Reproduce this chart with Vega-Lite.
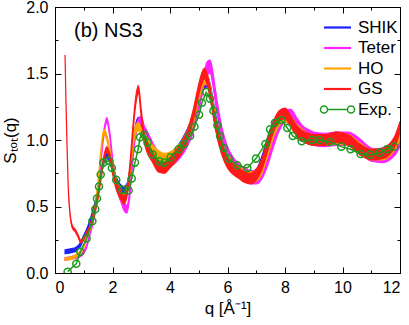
{
  "$schema": "https://vega.github.io/schema/vega-lite/v6.json",
  "width": 345,
  "height": 266,
  "autosize": {"type": "none"},
  "padding": {"left": 55, "top": 7, "right": 9, "bottom": 52},
  "config": {
    "view": {"stroke": "black", "strokeWidth": 1},
    "axis": {"labelFont": "Liberation Sans", "labelFontSize": 16, "titleFont": "Liberation Sans", "titleFontSize": 17, "titleFontWeight": "normal", "labelColor": "black", "titleColor": "black", "tickColor": "black", "domainColor": "black", "grid": false},
    "legend": {"labelFont": "Liberation Sans", "labelFontSize": 17, "labelFontWeight": "normal", "labelColor": "black"}
  },
  "datasets": {
    "sim": [
      {"m":"SHIK","q":0.35,"lo":0.145,"hi":0.175},{"m":"SHIK","q":0.5,"lo":0.15,"hi":0.18},{"m":"SHIK","q":0.6,"lo":0.155,"hi":0.185},{"m":"SHIK","q":0.7,"lo":0.16,"hi":0.19},{"m":"SHIK","q":0.8,"lo":0.175,"hi":0.205},{"m":"SHIK","q":0.9,"lo":0.205,"hi":0.235},{"m":"SHIK","q":1.0,"lo":0.255,"hi":0.285},{"m":"SHIK","q":1.1,"lo":0.31,"hi":0.33},{"m":"SHIK","q":1.2,"lo":0.37,"hi":0.39},{"m":"SHIK","q":1.3,"lo":0.42,"hi":0.46},{"m":"SHIK","q":1.4,"lo":0.5,"hi":0.54},{"m":"SHIK","q":1.5,"lo":0.6,"hi":0.64},{"m":"SHIK","q":1.6,"lo":0.72,"hi":0.76},{"m":"SHIK","q":1.7,"lo":0.82,"hi":0.86},{"m":"SHIK","q":1.8,"lo":0.86,"hi":0.9},{"m":"SHIK","q":1.9,"lo":0.84,"hi":0.88},{"m":"SHIK","q":2.0,"lo":0.76,"hi":0.82},{"m":"SHIK","q":2.1,"lo":0.68,"hi":0.74},{"m":"SHIK","q":2.2,"lo":0.63,"hi":0.69},{"m":"SHIK","q":2.3,"lo":0.6,"hi":0.66},{"m":"SHIK","q":2.4,"lo":0.59,"hi":0.65},{"m":"SHIK","q":2.5,"lo":0.61,"hi":0.67},{"m":"SHIK","q":2.6,"lo":0.71,"hi":0.77},{"m":"SHIK","q":2.7,"lo":0.89,"hi":0.95},{"m":"SHIK","q":2.8,"lo":1.05,"hi":1.11},{"m":"SHIK","q":2.9,"lo":1.11,"hi":1.17},{"m":"SHIK","q":3.0,"lo":1.07,"hi":1.13},{"m":"SHIK","q":3.1,"lo":1.0,"hi":1.06},{"m":"SHIK","q":3.2,"lo":0.94,"hi":1.02},{"m":"SHIK","q":3.4,"lo":0.86,"hi":0.94},{"m":"SHIK","q":3.6,"lo":0.8,"hi":0.88},{"m":"SHIK","q":3.8,"lo":0.79,"hi":0.87},{"m":"SHIK","q":4.0,"lo":0.82,"hi":0.9},{"m":"SHIK","q":4.2,"lo":0.86,"hi":0.94},{"m":"SHIK","q":4.4,"lo":0.92,"hi":1.0},{"m":"SHIK","q":4.6,"lo":1.0,"hi":1.08},{"m":"SHIK","q":4.8,"lo":1.11,"hi":1.19},{"m":"SHIK","q":5.0,"lo":1.26,"hi":1.34},{"m":"SHIK","q":5.1,"lo":1.34,"hi":1.42},{"m":"SHIK","q":5.2,"lo":1.39,"hi":1.47},{"m":"SHIK","q":5.3,"lo":1.4,"hi":1.48},{"m":"SHIK","q":5.4,"lo":1.34,"hi":1.42},{"m":"SHIK","q":5.5,"lo":1.22,"hi":1.3},{"m":"SHIK","q":5.6,"lo":1.1,"hi":1.18},{"m":"SHIK","q":5.8,"lo":0.92,"hi":1.0},{"m":"SHIK","q":6.0,"lo":0.82,"hi":0.9},{"m":"SHIK","q":6.2,"lo":0.76,"hi":0.84},{"m":"SHIK","q":6.4,"lo":0.72,"hi":0.8},{"m":"SHIK","q":6.6,"lo":0.69,"hi":0.77},{"m":"SHIK","q":6.8,"lo":0.68,"hi":0.76},{"m":"SHIK","q":7.0,"lo":0.7,"hi":0.78},{"m":"SHIK","q":7.2,"lo":0.8,"hi":0.88},{"m":"SHIK","q":7.4,"lo":0.94,"hi":1.02},{"m":"SHIK","q":7.6,"lo":1.06,"hi":1.14},{"m":"SHIK","q":7.8,"lo":1.12,"hi":1.2},{"m":"SHIK","q":8.0,"lo":1.14,"hi":1.22},{"m":"SHIK","q":8.2,"lo":1.1,"hi":1.18},{"m":"SHIK","q":8.4,"lo":1.04,"hi":1.12},{"m":"SHIK","q":8.6,"lo":1.0,"hi":1.08},{"m":"SHIK","q":8.8,"lo":0.97,"hi":1.05},{"m":"SHIK","q":9.0,"lo":0.96,"hi":1.04},{"m":"SHIK","q":9.4,"lo":0.96,"hi":1.04},{"m":"SHIK","q":9.8,"lo":0.98,"hi":1.06},{"m":"SHIK","q":10.2,"lo":0.96,"hi":1.04},{"m":"SHIK","q":10.6,"lo":0.9,"hi":0.98},{"m":"SHIK","q":11.0,"lo":0.85,"hi":0.93},{"m":"SHIK","q":11.4,"lo":0.86,"hi":0.94},{"m":"SHIK","q":11.8,"lo":0.93,"hi":1.01},{"m":"SHIK","q":12.0,"lo":1.02,"hi":1.1},

      {"m":"Teter","q":0.35,"lo":0.095,"hi":0.115},{"m":"Teter","q":0.5,"lo":0.1,"hi":0.12},{"m":"Teter","q":0.6,"lo":0.105,"hi":0.125},{"m":"Teter","q":0.7,"lo":0.11,"hi":0.13},{"m":"Teter","q":0.8,"lo":0.115,"hi":0.135},{"m":"Teter","q":0.9,"lo":0.125,"hi":0.145},{"m":"Teter","q":1.0,"lo":0.145,"hi":0.165},{"m":"Teter","q":1.1,"lo":0.19,"hi":0.21},{"m":"Teter","q":1.2,"lo":0.27,"hi":0.29},{"m":"Teter","q":1.3,"lo":0.35,"hi":0.39},{"m":"Teter","q":1.4,"lo":0.45,"hi":0.49},{"m":"Teter","q":1.5,"lo":0.6,"hi":0.64},{"m":"Teter","q":1.6,"lo":0.83,"hi":0.87},{"m":"Teter","q":1.7,"lo":1.03,"hi":1.07},{"m":"Teter","q":1.8,"lo":1.13,"hi":1.17},{"m":"Teter","q":1.9,"lo":1.03,"hi":1.07},{"m":"Teter","q":2.0,"lo":0.82,"hi":0.88},{"m":"Teter","q":2.1,"lo":0.67,"hi":0.73},{"m":"Teter","q":2.2,"lo":0.59,"hi":0.65},{"m":"Teter","q":2.3,"lo":0.53,"hi":0.59},{"m":"Teter","q":2.4,"lo":0.47,"hi":0.53},{"m":"Teter","q":2.5,"lo":0.45,"hi":0.51},{"m":"Teter","q":2.6,"lo":0.57,"hi":0.63},{"m":"Teter","q":2.7,"lo":0.82,"hi":0.88},{"m":"Teter","q":2.8,"lo":1.02,"hi":1.08},{"m":"Teter","q":2.9,"lo":1.1,"hi":1.16},{"m":"Teter","q":3.0,"lo":1.12,"hi":1.18},{"m":"Teter","q":3.1,"lo":1.05,"hi":1.11},{"m":"Teter","q":3.2,"lo":0.97,"hi":1.07},{"m":"Teter","q":3.4,"lo":0.88,"hi":0.98},{"m":"Teter","q":3.6,"lo":0.81,"hi":0.91},{"m":"Teter","q":3.8,"lo":0.78,"hi":0.88},{"m":"Teter","q":4.0,"lo":0.8,"hi":0.9},{"m":"Teter","q":4.2,"lo":0.83,"hi":0.93},{"m":"Teter","q":4.4,"lo":0.88,"hi":0.98},{"m":"Teter","q":4.6,"lo":0.95,"hi":1.05},{"m":"Teter","q":4.8,"lo":1.05,"hi":1.15},{"m":"Teter","q":5.0,"lo":1.22,"hi":1.32},{"m":"Teter","q":5.1,"lo":1.32,"hi":1.42},{"m":"Teter","q":5.2,"lo":1.42,"hi":1.52},{"m":"Teter","q":5.3,"lo":1.49,"hi":1.59},{"m":"Teter","q":5.4,"lo":1.5,"hi":1.6},{"m":"Teter","q":5.5,"lo":1.4,"hi":1.5},{"m":"Teter","q":5.6,"lo":1.25,"hi":1.35},{"m":"Teter","q":5.8,"lo":1.0,"hi":1.1},{"m":"Teter","q":6.0,"lo":0.85,"hi":0.95},{"m":"Teter","q":6.2,"lo":0.77,"hi":0.87},{"m":"Teter","q":6.4,"lo":0.72,"hi":0.82},{"m":"Teter","q":6.6,"lo":0.69,"hi":0.79},{"m":"Teter","q":6.8,"lo":0.67,"hi":0.77},{"m":"Teter","q":7.0,"lo":0.67,"hi":0.77},{"m":"Teter","q":7.2,"lo":0.71,"hi":0.81},{"m":"Teter","q":7.4,"lo":0.81,"hi":0.91},{"m":"Teter","q":7.6,"lo":0.95,"hi":1.05},{"m":"Teter","q":7.8,"lo":1.07,"hi":1.17},{"m":"Teter","q":8.0,"lo":1.13,"hi":1.23},{"m":"Teter","q":8.2,"lo":1.13,"hi":1.23},{"m":"Teter","q":8.4,"lo":1.07,"hi":1.17},{"m":"Teter","q":8.6,"lo":1.01,"hi":1.11},{"m":"Teter","q":8.8,"lo":0.98,"hi":1.08},{"m":"Teter","q":9.0,"lo":0.96,"hi":1.06},{"m":"Teter","q":9.4,"lo":0.95,"hi":1.05},{"m":"Teter","q":9.8,"lo":0.96,"hi":1.06},{"m":"Teter","q":10.2,"lo":0.96,"hi":1.06},{"m":"Teter","q":10.6,"lo":0.91,"hi":1.01},{"m":"Teter","q":11.0,"lo":0.84,"hi":0.94},{"m":"Teter","q":11.4,"lo":0.83,"hi":0.93},{"m":"Teter","q":11.8,"lo":0.88,"hi":0.98},{"m":"Teter","q":12.0,"lo":0.95,"hi":1.05},

      {"m":"HO","q":0.35,"lo":0.095,"hi":0.115},{"m":"HO","q":0.5,"lo":0.1,"hi":0.12},{"m":"HO","q":0.6,"lo":0.105,"hi":0.125},{"m":"HO","q":0.7,"lo":0.115,"hi":0.135},{"m":"HO","q":0.8,"lo":0.13,"hi":0.15},{"m":"HO","q":0.9,"lo":0.15,"hi":0.17},{"m":"HO","q":1.0,"lo":0.19,"hi":0.21},{"m":"HO","q":1.1,"lo":0.25,"hi":0.27},{"m":"HO","q":1.2,"lo":0.31,"hi":0.33},{"m":"HO","q":1.3,"lo":0.38,"hi":0.42},{"m":"HO","q":1.4,"lo":0.48,"hi":0.52},{"m":"HO","q":1.5,"lo":0.66,"hi":0.7},{"m":"HO","q":1.6,"lo":0.9,"hi":0.94},{"m":"HO","q":1.7,"lo":1.04,"hi":1.08},{"m":"HO","q":1.8,"lo":1.0,"hi":1.04},{"m":"HO","q":1.9,"lo":0.9,"hi":0.94},{"m":"HO","q":2.0,"lo":0.77,"hi":0.83},{"m":"HO","q":2.1,"lo":0.67,"hi":0.73},{"m":"HO","q":2.2,"lo":0.6,"hi":0.66},{"m":"HO","q":2.3,"lo":0.55,"hi":0.61},{"m":"HO","q":2.4,"lo":0.53,"hi":0.59},{"m":"HO","q":2.5,"lo":0.59,"hi":0.65},{"m":"HO","q":2.6,"lo":0.72,"hi":0.78},{"m":"HO","q":2.7,"lo":0.92,"hi":0.98},{"m":"HO","q":2.8,"lo":1.05,"hi":1.11},{"m":"HO","q":2.9,"lo":1.07,"hi":1.13},{"m":"HO","q":3.0,"lo":1.03,"hi":1.09},{"m":"HO","q":3.1,"lo":0.99,"hi":1.05},{"m":"HO","q":3.2,"lo":0.94,"hi":1.02},{"m":"HO","q":3.4,"lo":0.88,"hi":0.96},{"m":"HO","q":3.6,"lo":0.84,"hi":0.92},{"m":"HO","q":3.8,"lo":0.82,"hi":0.9},{"m":"HO","q":4.0,"lo":0.83,"hi":0.91},{"m":"HO","q":4.2,"lo":0.86,"hi":0.94},{"m":"HO","q":4.4,"lo":0.91,"hi":0.99},{"m":"HO","q":4.6,"lo":0.99,"hi":1.07},{"m":"HO","q":4.8,"lo":1.12,"hi":1.2},{"m":"HO","q":5.0,"lo":1.29,"hi":1.37},{"m":"HO","q":5.1,"lo":1.38,"hi":1.46},{"m":"HO","q":5.2,"lo":1.42,"hi":1.5},{"m":"HO","q":5.3,"lo":1.41,"hi":1.49},{"m":"HO","q":5.4,"lo":1.33,"hi":1.41},{"m":"HO","q":5.5,"lo":1.21,"hi":1.29},{"m":"HO","q":5.6,"lo":1.08,"hi":1.16},{"m":"HO","q":5.8,"lo":0.91,"hi":0.99},{"m":"HO","q":6.0,"lo":0.81,"hi":0.89},{"m":"HO","q":6.2,"lo":0.75,"hi":0.83},{"m":"HO","q":6.4,"lo":0.72,"hi":0.8},{"m":"HO","q":6.6,"lo":0.69,"hi":0.77},{"m":"HO","q":6.8,"lo":0.68,"hi":0.76},{"m":"HO","q":7.0,"lo":0.69,"hi":0.77},{"m":"HO","q":7.2,"lo":0.75,"hi":0.83},{"m":"HO","q":7.4,"lo":0.88,"hi":0.96},{"m":"HO","q":7.6,"lo":1.02,"hi":1.1},{"m":"HO","q":7.8,"lo":1.11,"hi":1.19},{"m":"HO","q":8.0,"lo":1.14,"hi":1.22},{"m":"HO","q":8.2,"lo":1.1,"hi":1.18},{"m":"HO","q":8.4,"lo":1.04,"hi":1.12},{"m":"HO","q":8.6,"lo":1.0,"hi":1.08},{"m":"HO","q":8.8,"lo":0.97,"hi":1.05},{"m":"HO","q":9.0,"lo":0.96,"hi":1.04},{"m":"HO","q":9.4,"lo":0.96,"hi":1.04},{"m":"HO","q":9.8,"lo":0.97,"hi":1.05},{"m":"HO","q":10.2,"lo":0.96,"hi":1.04},{"m":"HO","q":10.6,"lo":0.9,"hi":0.98},{"m":"HO","q":11.0,"lo":0.85,"hi":0.93},{"m":"HO","q":11.4,"lo":0.85,"hi":0.93},{"m":"HO","q":11.8,"lo":0.92,"hi":1.0},{"m":"HO","q":12.0,"lo":1.0,"hi":1.08},

      {"m":"GS","q":0.35,"lo":1.62,"hi":1.64},{"m":"GS","q":0.38,"lo":1.29,"hi":1.31},{"m":"GS","q":0.42,"lo":0.94,"hi":0.96},{"m":"GS","q":0.46,"lo":0.64,"hi":0.66},{"m":"GS","q":0.52,"lo":0.44,"hi":0.46},{"m":"GS","q":0.6,"lo":0.34,"hi":0.36},{"m":"GS","q":0.7,"lo":0.31,"hi":0.33},{"m":"GS","q":0.8,"lo":0.27,"hi":0.29},{"m":"GS","q":0.9,"lo":0.225,"hi":0.245},{"m":"GS","q":1.0,"lo":0.25,"hi":0.27},{"m":"GS","q":1.1,"lo":0.29,"hi":0.31},{"m":"GS","q":1.2,"lo":0.33,"hi":0.35},{"m":"GS","q":1.3,"lo":0.38,"hi":0.42},{"m":"GS","q":1.4,"lo":0.46,"hi":0.5},{"m":"GS","q":1.5,"lo":0.56,"hi":0.6},{"m":"GS","q":1.6,"lo":0.7,"hi":0.74},{"m":"GS","q":1.7,"lo":0.84,"hi":0.88},{"m":"GS","q":1.8,"lo":0.91,"hi":0.95},{"m":"GS","q":1.9,"lo":0.86,"hi":0.9},{"m":"GS","q":2.0,"lo":0.75,"hi":0.81},{"m":"GS","q":2.1,"lo":0.65,"hi":0.71},{"m":"GS","q":2.2,"lo":0.59,"hi":0.65},{"m":"GS","q":2.3,"lo":0.55,"hi":0.61},{"m":"GS","q":2.4,"lo":0.52,"hi":0.58},{"m":"GS","q":2.5,"lo":0.57,"hi":0.63},{"m":"GS","q":2.6,"lo":0.75,"hi":0.81},{"m":"GS","q":2.7,"lo":1.02,"hi":1.08},{"m":"GS","q":2.8,"lo":1.25,"hi":1.31},{"m":"GS","q":2.9,"lo":1.35,"hi":1.41},{"m":"GS","q":3.0,"lo":1.17,"hi":1.23},{"m":"GS","q":3.1,"lo":0.99,"hi":1.05},{"m":"GS","q":3.2,"lo":0.91,"hi":0.99},{"m":"GS","q":3.4,"lo":0.83,"hi":0.91},{"m":"GS","q":3.6,"lo":0.76,"hi":0.84},{"m":"GS","q":3.8,"lo":0.75,"hi":0.83},{"m":"GS","q":4.0,"lo":0.79,"hi":0.87},{"m":"GS","q":4.2,"lo":0.84,"hi":0.92},{"m":"GS","q":4.4,"lo":0.9,"hi":0.98},{"m":"GS","q":4.6,"lo":0.99,"hi":1.07},{"m":"GS","q":4.8,"lo":1.14,"hi":1.22},{"m":"GS","q":5.0,"lo":1.34,"hi":1.42},{"m":"GS","q":5.1,"lo":1.42,"hi":1.5},{"m":"GS","q":5.2,"lo":1.46,"hi":1.54},{"m":"GS","q":5.3,"lo":1.41,"hi":1.49},{"m":"GS","q":5.4,"lo":1.31,"hi":1.39},{"m":"GS","q":5.5,"lo":1.18,"hi":1.26},{"m":"GS","q":5.6,"lo":1.06,"hi":1.14},{"m":"GS","q":5.8,"lo":0.89,"hi":0.97},{"m":"GS","q":6.0,"lo":0.79,"hi":0.87},{"m":"GS","q":6.2,"lo":0.74,"hi":0.82},{"m":"GS","q":6.4,"lo":0.71,"hi":0.79},{"m":"GS","q":6.6,"lo":0.68,"hi":0.76},{"m":"GS","q":6.8,"lo":0.67,"hi":0.75},{"m":"GS","q":7.0,"lo":0.7,"hi":0.78},{"m":"GS","q":7.2,"lo":0.78,"hi":0.86},{"m":"GS","q":7.4,"lo":0.92,"hi":1.0},{"m":"GS","q":7.6,"lo":1.06,"hi":1.14},{"m":"GS","q":7.8,"lo":1.14,"hi":1.22},{"m":"GS","q":8.0,"lo":1.16,"hi":1.24},{"m":"GS","q":8.2,"lo":1.1,"hi":1.18},{"m":"GS","q":8.4,"lo":1.03,"hi":1.11},{"m":"GS","q":8.6,"lo":0.99,"hi":1.07},{"m":"GS","q":8.8,"lo":0.97,"hi":1.05},{"m":"GS","q":9.0,"lo":0.96,"hi":1.04},{"m":"GS","q":9.4,"lo":0.96,"hi":1.04},{"m":"GS","q":9.8,"lo":0.98,"hi":1.06},{"m":"GS","q":10.2,"lo":0.96,"hi":1.04},{"m":"GS","q":10.6,"lo":0.89,"hi":0.97},{"m":"GS","q":11.0,"lo":0.85,"hi":0.93},{"m":"GS","q":11.4,"lo":0.86,"hi":0.94},{"m":"GS","q":11.8,"lo":0.94,"hi":1.02},{"m":"GS","q":12.0,"lo":1.06,"hi":1.14}
    ],
    "exp": [
      {"m":"Exp.","q":0.44,"S":0.01},{"m":"Exp.","q":0.74,"S":0.07},{"m":"Exp.","q":0.88,"S":0.16},{"m":"Exp.","q":1.10,"S":0.26},{"m":"Exp.","q":1.30,"S":0.39},{"m":"Exp.","q":1.40,"S":0.48},{"m":"Exp.","q":1.46,"S":0.56},{"m":"Exp.","q":1.53,"S":0.65},{"m":"Exp.","q":1.59,"S":0.74},{"m":"Exp.","q":1.68,"S":0.83},{"m":"Exp.","q":1.87,"S":0.845},{"m":"Exp.","q":1.98,"S":0.79},{"m":"Exp.","q":2.13,"S":0.70},{"m":"Exp.","q":2.34,"S":0.625},{"m":"Exp.","q":2.56,"S":0.62},{"m":"Exp.","q":2.67,"S":0.71},{"m":"Exp.","q":2.78,"S":0.83},{"m":"Exp.","q":2.89,"S":0.93},{"m":"Exp.","q":2.96,"S":1.02},{"m":"Exp.","q":3.10,"S":1.04},{"m":"Exp.","q":3.22,"S":0.98},{"m":"Exp.","q":3.40,"S":0.89},{"m":"Exp.","q":3.63,"S":0.84},{"m":"Exp.","q":3.80,"S":0.83},{"m":"Exp.","q":4.02,"S":0.87},{"m":"Exp.","q":4.30,"S":0.93},{"m":"Exp.","q":4.49,"S":0.97},{"m":"Exp.","q":4.70,"S":1.03},{"m":"Exp.","q":4.85,"S":1.10},{"m":"Exp.","q":5.01,"S":1.19},{"m":"Exp.","q":5.11,"S":1.28},{"m":"Exp.","q":5.26,"S":1.36},{"m":"Exp.","q":5.39,"S":1.31},{"m":"Exp.","q":5.51,"S":1.22},{"m":"Exp.","q":5.65,"S":1.11},{"m":"Exp.","q":5.74,"S":1.03},{"m":"Exp.","q":5.88,"S":0.94},{"m":"Exp.","q":6.04,"S":0.86},{"m":"Exp.","q":6.34,"S":0.81},{"m":"Exp.","q":6.69,"S":0.79},{"m":"Exp.","q":6.99,"S":0.86},{"m":"Exp.","q":7.32,"S":0.97},{"m":"Exp.","q":7.48,"S":1.08},{"m":"Exp.","q":7.65,"S":1.13},{"m":"Exp.","q":7.88,"S":1.15},{"m":"Exp.","q":8.08,"S":1.09},{"m":"Exp.","q":8.27,"S":1.03},{"m":"Exp.","q":8.58,"S":0.99},{"m":"Exp.","q":8.95,"S":1.00},{"m":"Exp.","q":9.19,"S":1.00},{"m":"Exp.","q":9.57,"S":0.985},{"m":"Exp.","q":9.96,"S":0.95},{"m":"Exp.","q":10.28,"S":0.93},{"m":"Exp.","q":10.63,"S":0.895},{"m":"Exp.","q":10.96,"S":0.89},{"m":"Exp.","q":11.30,"S":0.905},{"m":"Exp.","q":11.54,"S":0.93},{"m":"Exp.","q":11.80,"S":0.95}
    ]
  },
  "resolve": {"axis": {"x": "independent", "y": "independent"}},
  "layer": [
    {
      "data": {"name": "sim"},
      "transform": [{"filter": "datum.m === 'SHIK'"}],
      "mark": {"type": "area", "interpolate": "monotone", "clip": true, "strokeWidth": 1.2},
      "encoding": {
        "x": {"field": "q", "type": "quantitative", "scale": {"domain": [0, 12], "nice": false},
              "axis": {"orient": "bottom", "values": [0, 2, 4, 6, 8, 10, 12], "format": "d", "tickSize": -6, "labelPadding": 12, "domain": true, "title": "q [Å⁻¹]", "titlePadding": 5}},
        "y": {"field": "lo", "type": "quantitative", "scale": {"domain": [0, 2], "nice": false},
              "axis": {"orient": "left", "values": [0, 0.5, 1, 1.5, 2], "format": ".1f", "tickSize": -6, "labelPadding": 13, "domain": true, "title": "Sₜₒₜ(q)", "titlePadding": 6}},
        "y2": {"field": "hi"},
        "stroke": {"field": "m", "type": "nominal", "legend": null,
                   "scale": {"domain": ["SHIK", "Teter", "HO", "GS", "Exp."], "range": ["#1f1fff", "#ff22ff", "#ffa500", "#ff1a1a", "#1f9a1f"]}},
        "color": {"field": "m", "type": "nominal",
                  "scale": {"domain": ["SHIK", "Teter", "HO", "GS", "Exp."], "range": ["#1f1fff", "#ff22ff", "#ffa500", "#ff1a1a", "#1f9a1f"]},
                  "legend": {"orient": "none", "legendX": 274, "legendY": 12, "title": null, "padding": 0, "labelOffset": 12, "rowPadding": 2.5, "symbolSize": 81,
                             "encode": {"symbols": {"update": {
                               "shape": {"signal": "datum.value === 'Exp.' ? 'M-3.78,0A0.78,0.78 0 1,0 -2.22,0A0.78,0.78 0 1,0 -3.78,0M-2.22,0L2.22,0M2.22,0A0.78,0.78 0 1,0 3.78,0A0.78,0.78 0 1,0 2.22,0' : 'M-3,0L3,0'"},
                               "fill": {"value": "transparent"},
                               "fillOpacity": {"value": 0},
                               "stroke": {"scale": "color", "field": "value"},
                               "strokeWidth": {"signal": "datum.value === 'Exp.' ? 1.5 : 2.2"},
                               "size": {"value": 81},
                               "opacity": {"value": 1}
                             }}}}}
      }
    },
    {
      "data": {"name": "sim"},
      "transform": [{"filter": "datum.m === 'Teter'"}],
      "mark": {"type": "area", "interpolate": "monotone", "clip": true, "strokeWidth": 1.2},
      "encoding": {
        "x": {"field": "q", "type": "quantitative", "axis": {"orient": "bottom", "values": [1, 3, 5, 7, 9, 11], "tickSize": -3, "labels": false, "domain": false, "title": null}},
        "y": {"field": "lo", "type": "quantitative", "axis": {"orient": "left", "values": [0.25, 0.75, 1.25, 1.75], "tickSize": -3, "labels": false, "domain": false, "title": null}},
        "y2": {"field": "hi"},
        "stroke": {"field": "m", "type": "nominal", "legend": null},
        "color": {"field": "m", "type": "nominal"}
      }
    },
    {
      "data": {"name": "sim"},
      "transform": [{"filter": "datum.m === 'HO'"}],
      "mark": {"type": "area", "interpolate": "monotone", "clip": true, "strokeWidth": 1.2},
      "encoding": {
        "x": {"field": "q", "type": "quantitative", "axis": {"orient": "top", "values": [0, 2, 4, 6, 8, 10, 12], "tickSize": -6, "labels": false, "domain": true, "title": null}},
        "y": {"field": "lo", "type": "quantitative", "axis": {"orient": "right", "values": [0, 0.5, 1, 1.5, 2], "tickSize": -6, "labels": false, "domain": true, "title": null}},
        "y2": {"field": "hi"},
        "stroke": {"field": "m", "type": "nominal", "legend": null},
        "color": {"field": "m", "type": "nominal"}
      }
    },
    {
      "data": {"name": "sim"},
      "transform": [{"filter": "datum.m === 'GS'"}],
      "mark": {"type": "area", "interpolate": "monotone", "clip": true, "strokeWidth": 1.2},
      "encoding": {
        "x": {"field": "q", "type": "quantitative", "axis": {"orient": "top", "values": [1, 3, 5, 7, 9, 11], "tickSize": -3, "labels": false, "domain": false, "title": null}},
        "y": {"field": "lo", "type": "quantitative", "axis": {"orient": "right", "values": [0.25, 0.75, 1.25, 1.75], "tickSize": -3, "labels": false, "domain": false, "title": null}},
        "y2": {"field": "hi"},
        "stroke": {"field": "m", "type": "nominal", "legend": null},
        "color": {"field": "m", "type": "nominal"}
      }
    },
    {
      "data": {"name": "exp"},
      "mark": {"type": "line", "strokeWidth": 1.5, "clip": true},
      "encoding": {
        "x": {"field": "q", "type": "quantitative", "axis": null},
        "y": {"field": "S", "type": "quantitative", "axis": null},
        "color": {"field": "m", "type": "nominal"}
      }
    },
    {
      "data": {"name": "exp"},
      "mark": {"type": "point", "filled": false, "size": 50, "strokeWidth": 1.5, "opacity": 1, "clip": true},
      "encoding": {
        "x": {"field": "q", "type": "quantitative", "axis": null},
        "y": {"field": "S", "type": "quantitative", "axis": null},
        "color": {"field": "m", "type": "nominal"}
      }
    },
    {
      "data": {"values": [{"t": "(b) NS3"}]},
      "mark": {"type": "text", "align": "left", "baseline": "alphabetic", "font": "Liberation Sans", "fontSize": 20, "color": "black"},
      "encoding": {
        "x": {"datum": 0.66, "type": "quantitative", "axis": null},
        "y": {"datum": 1.777, "type": "quantitative", "axis": null},
        "text": {"field": "t"}
      }
    }
  ]
}
